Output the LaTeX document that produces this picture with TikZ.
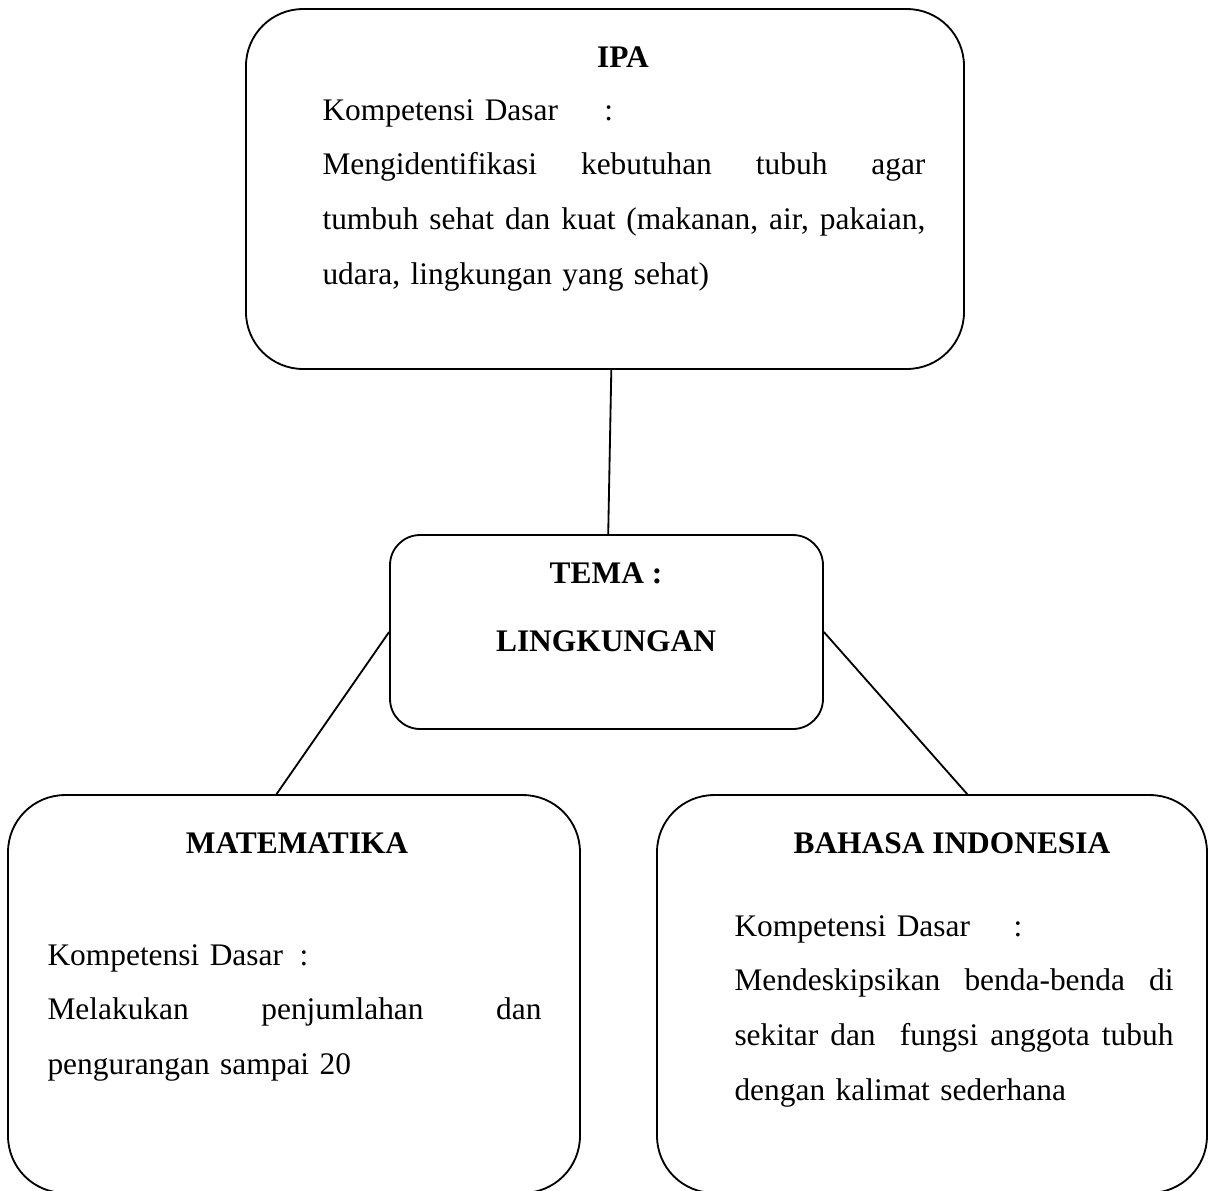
\documentclass[tikz,border=0pt]{standalone}
\usepackage{fontspec}
\setmainfont{Liberation Serif}
\tikzset{
  kotak/.style={draw, line width=0.7pt, rounded corners=21.8pt, inner sep=0pt},
  judul/.style={anchor=base, inner sep=0pt, font=\fontsize{12}{21}\selectfont\bfseries},
  isi/.style={anchor=base west, inner sep=0pt, align=left, font=\fontsize{12}{21}\selectfont},
  garis/.style={line width=0.7pt}
}
% baris rata kiri-kanan
\newcommand{\rata}[2]{\makebox[#1][l]{#2}}
\newcommand{\sela}{\ \hfill}

\begin{document}
\begin{tikzpicture}[x=0.382pt, y=-0.382pt]
  \useasboundingbox (0,0) rectangle (1208,1190);

  % kotak
  \node[kotak, minimum width=274.3pt, minimum height=137.5pt] (ipa) at (605,189) {};
  \node[kotak, rounded corners=11.5pt, minimum width=165.4pt, minimum height=74.1pt] (tema) at (606.5,632) {};
  \node[kotak, minimum width=218.5pt, minimum height=152pt] (mat) at (294,994) {};
  \node[kotak, minimum width=210.1pt, minimum height=152pt] (bhs) at (932,994) {};

  \draw[garis] (ipa.272) -- (tema.89);
  \draw[garis] (tema.west) -- (mat.95);
  \draw[garis] (tema.east) -- (bhs.80);

  % IPA
  \node[judul] (ipajudul) at (623,67) {IPA};
  \node[isi, text width=230.3pt] (ipaisi) at (322,120) {\makebox[107.7pt][l]{Kompetensi Dasar}:\\
    \rata{230.3pt}{Mengidentifikasi\sela kebutuhan\sela tubuh\sela agar}\\
    \rata{230.3pt}{tumbuh\sela sehat\sela dan\sela kuat\sela (makanan,\sela air,\sela pakaian,}\\
    udara, lingkungan yang sehat)};

  % tema
  \node[judul] (temajudul) at (606,583) {TEMA :};
  \node[judul] (temaisi) at (606,651) {LINGKUNGAN};

  % matematika
  \node[judul] (matjudul) at (297,853) {MATEMATIKA};
  \node[isi, text width=188.7pt] (matisi) at (47,965) {\makebox[96.3pt][l]{Kompetensi Dasar}:\\
    \rata{188.7pt}{Melakukan\sela penjumlahan\sela dan}\\
    pengurangan sampai 20};

  % bahasa indonesia
  \node[judul] (bhsjudul) at (952,853) {BAHASA INDONESIA};
  \node[isi, text width=167.7pt] (bhsisi) at (734,936) {\makebox[106.6pt][l]{Kompetensi Dasar}:\\
    \rata{167.7pt}{Mendeskipsikan\sela benda-benda\sela di}\\
    \rata{167.7pt}{sekitar\sela dan\sela\sela fungsi\sela anggota\sela tubuh}\\
    dengan kalimat sederhana};
\end{tikzpicture}
\end{document}
